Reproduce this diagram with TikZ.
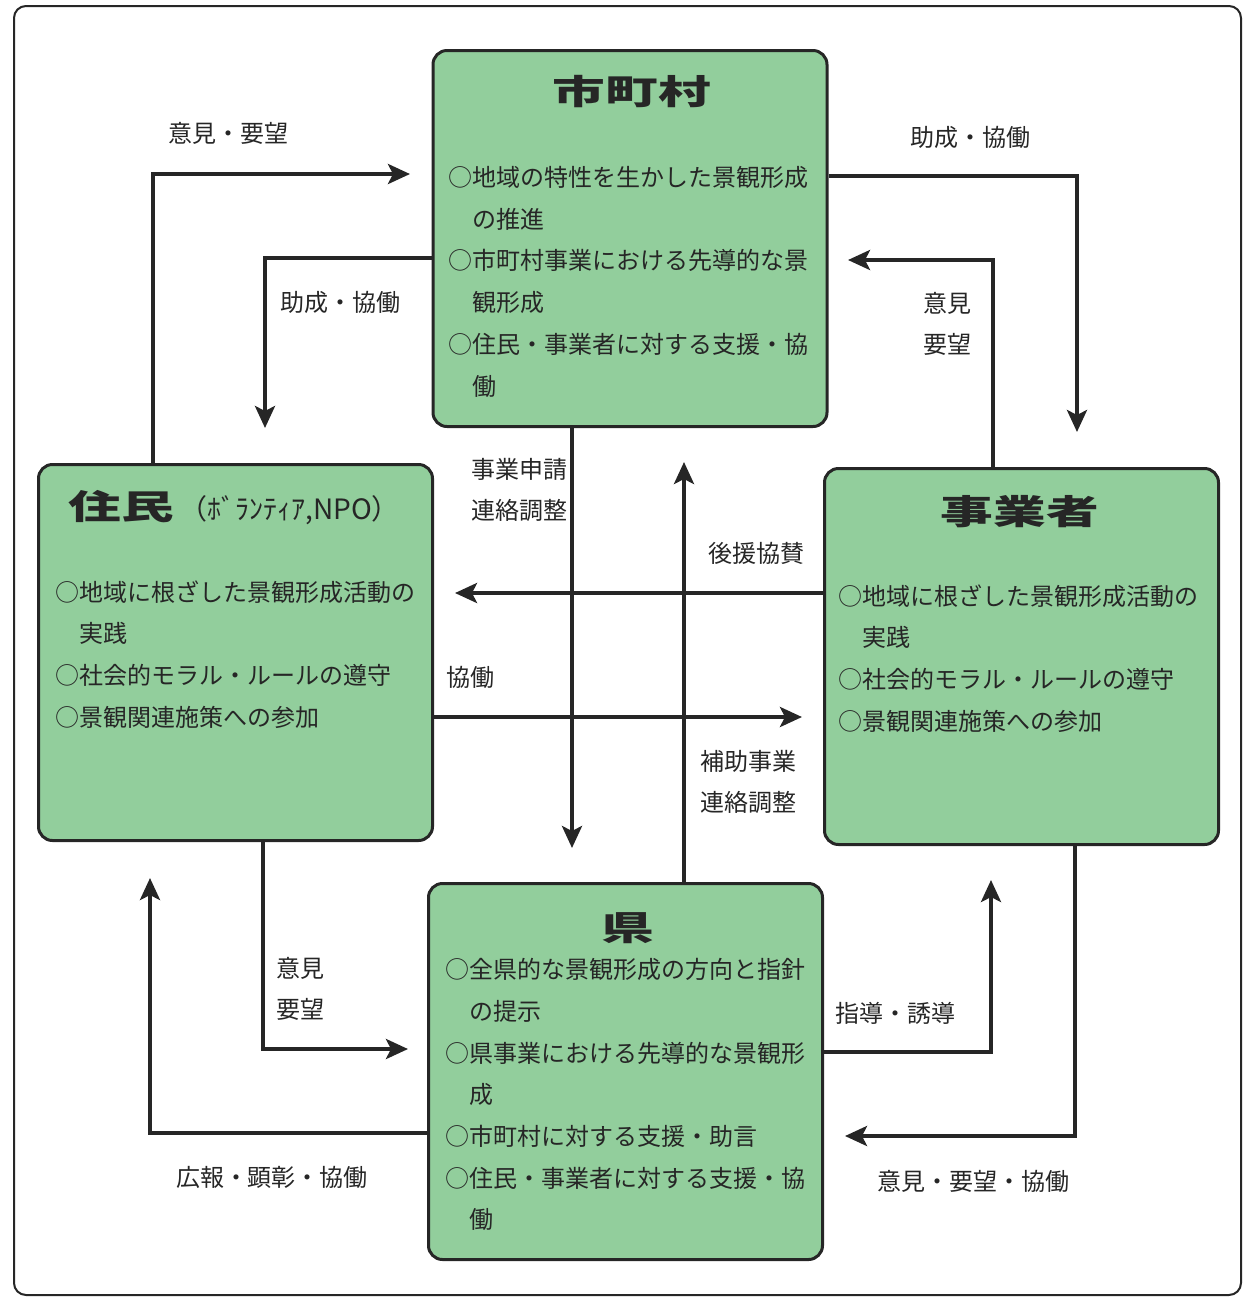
\documentclass[tikz,border=0pt]{standalone}
\usepackage{fontspec}
\usepackage{graphicx}
\setmainfont{Noto Sans CJK JP}[BoldFont={Noto Sans CJK JP Bold}]
\newfontfamily\titlefont{Noto Sans CJK JP Black}
\usepackage{xcolor}
\usepackage{tikz}
\usetikzlibrary{arrows.meta,positioning}
\definecolor{rolegreen}{RGB}{146,206,156}
\definecolor{inkgray}{RGB}{38,38,38}
\newcommand{\widetitle}[1]{\scalebox{1.55}[1]{#1}}

\begin{document}
\begin{tikzpicture}[>={Stealth[length=11pt,width=10pt,inset=2.5pt]},x=0.5pt,y=-0.5pt]
  \tikzstyle{roleblock}=[draw=inkgray,line width=1.5pt,rounded corners=7pt,fill=rolegreen,minimum width=197pt,minimum height=188pt]
  \tikzstyle{roletitle}=[inner sep=0pt,text=inkgray,font=\fontsize{17pt}{17pt}\selectfont\titlefont]
  \tikzstyle{roletext}=[anchor=north west,inner sep=0pt,align=left,text=inkgray,font=\fontsize{12pt}{20.85pt}\selectfont]
  \tikzstyle{flowlabel}=[inner sep=0pt,align=center,text=inkgray,font=\fontsize{12pt}{20.85pt}\selectfont]
  \tikzstyle{flow}=[->,line width=2pt,draw=inkgray]
  \useasboundingbox (0,0) rectangle (1247,1298);
  \draw[inkgray,line width=1pt,rounded corners=6pt] (14,6) rectangle (1241,1295);

  \node[roleblock] (shi) at (630,238.5) {};
  \node[roleblock] (jumin) at (235.5,652.5) {};
  \node[roleblock] (jigyo) at (1021.5,656.5) {};
  \node[roleblock] (ken) at (625.5,1071.5) {};

  \node[roletitle] (shiTitle) at (632,92) {\widetitle{市町村}};
  \node[roletitle,anchor=west] (juminTitle) at (68,508) {\widetitle{住民}\,{\normalfont\fontsize{14pt}{14pt}\selectfont （ﾎﾞﾗﾝﾃｨｱ,NPO）}};
  \node[roletitle] (jigyoTitle) at (1020,512) {\widetitle{事業者}};
  \node[roletitle] (kenTitle) at (628,928) {\widetitle{県}};

  \node[roletext] (shiText) at (448,166) {○地域の特性を生かした景観形成\\\hspace*{1em}の推進\\○市町村事業における先導的な景\\\hspace*{1em}観形成\\○住民・事業者に対する支援・協\\\hspace*{1em}働};
  \node[roletext] (juminText) at (55,580) {○地域に根ざした景観形成活動の\\\hspace*{1em}実践\\○社会的モラル・ルールの遵守\\○景観関連施策への参加};
  \node[roletext] (jigyoText) at (838,584) {○地域に根ざした景観形成活動の\\\hspace*{1em}実践\\○社会的モラル・ルールの遵守\\○景観関連施策への参加};
  \node[roletext] (kenText) at (445,958) {○全県的な景観形成の方向と指針\\\hspace*{1em}の提示\\○県事業における先導的な景観形\\\hspace*{1em}成\\○市町村に対する支援・助言\\○住民・事業者に対する支援・協\\\hspace*{1em}働};

  \coordinate (c1) at (153,174);  \coordinate (t1) at (410,174);
  \coordinate (c2) at (265,258);  \coordinate (t2) at (265,428);
  \coordinate (c3) at (1077,176); \coordinate (t3) at (1077,432);
  \coordinate (c4) at (993,260);  \coordinate (t4) at (848,260);
  \coordinate (t5) at (572,848);
  \coordinate (t6) at (684,462);
  \coordinate (t7) at (455,593);
  \coordinate (t8) at (802,717);
  \coordinate (c9) at (263,1049); \coordinate (t9) at (408,1049);
  \coordinate (c10) at (150,1133); \coordinate (t10) at (150,878);
  \coordinate (c11) at (991,1052); \coordinate (t11) at (991,880);
  \coordinate (c12) at (1075,1136); \coordinate (t12) at (845,1136);

  \draw[flow] (jumin.north -| c1) -- (c1) -- (t1);
  \draw[flow] (shi.west |- c2) -- (c2) -- (t2);
  \draw[flow] (shi.east |- c3) -- (c3) -- (t3);
  \draw[flow] (jigyo.north -| c4) -- (c4) -- (t4);
  \draw[flow] (shi.south -| t5) -- (t5);
  \draw[flow] (ken.north -| t6) -- (t6);
  \draw[flow] (jigyo.west |- t7) -- (t7);
  \draw[flow] (jumin.east |- t8) -- (t8);
  \draw[flow] (jumin.south -| c9) -- (c9) -- (t9);
  \draw[flow] (ken.west |- c10) -- (c10) -- (t10);
  \draw[flow] (ken.east |- c11) -- (c11) -- (t11);
  \draw[flow] (jigyo.south -| c12) -- (c12) -- (t12);

  \node[flowlabel] (l1) at (228,133) {意見・要望};
  \node[flowlabel] (l2) at (340,302) {助成・協働};
  \node[flowlabel] (l3) at (970,137) {助成・協働};
  \node[flowlabel] (l4) at (947,324) {意見\\要望};
  \node[flowlabel] (l5) at (519,490) {事業申請\\連絡調整};
  \node[flowlabel] (l6) at (748,782) {補助事業\\連絡調整};
  \node[flowlabel] (l7) at (756,553) {後援協賛};
  \node[flowlabel] (l8) at (470,677) {協働};
  \node[flowlabel] (l9) at (300,989) {意見\\要望};
  \node[flowlabel] (l10) at (272,1177) {広報・顕彰・協働};
  \node[flowlabel] (l11) at (895,1013) {指導・誘導};
  \node[flowlabel] (l12) at (973,1181) {意見・要望・協働};
\end{tikzpicture}
\end{document}
